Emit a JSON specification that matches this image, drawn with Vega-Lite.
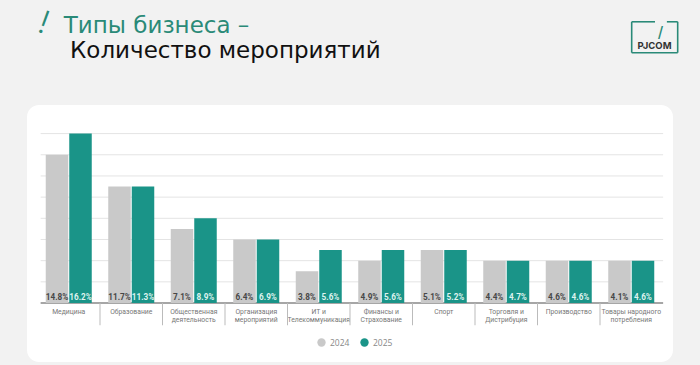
{
  "$schema": "https://vega.github.io/schema/vega-lite/v6.json",
  "width": 646,
  "height": 257,
  "autosize": "none",
  "padding": {"left": 27, "top": 105, "right": 27, "bottom": 3},
  "background": "#f2f2f2",
  "config": {
    "view": {"fill": "white", "stroke": null, "cornerRadius": 12},
    "font": "Open Sans"
  },
  "datasets": {
    "bars": [
      {"category": "Медицина", "year": "2024", "shown": 14, "label": "14.8%"},
      {"category": "Медицина", "year": "2025", "shown": 16, "label": "16.2%"},
      {"category": "Образование", "year": "2024", "shown": 11, "label": "11.7%"},
      {"category": "Образование", "year": "2025", "shown": 11, "label": "11.3%"},
      {"category": "Общественная деятельность", "year": "2024", "shown": 7, "label": "7.1%"},
      {"category": "Общественная деятельность", "year": "2025", "shown": 8, "label": "8.9%"},
      {"category": "Организация мероприятий", "year": "2024", "shown": 6, "label": "6.4%"},
      {"category": "Организация мероприятий", "year": "2025", "shown": 6, "label": "6.9%"},
      {"category": "ИТ и Телекоммуникация", "year": "2024", "shown": 3, "label": "3.8%"},
      {"category": "ИТ и Телекоммуникация", "year": "2025", "shown": 5, "label": "5.6%"},
      {"category": "Финансы и Страхование", "year": "2024", "shown": 4, "label": "4.9%"},
      {"category": "Финансы и Страхование", "year": "2025", "shown": 5, "label": "5.6%"},
      {"category": "Спорт", "year": "2024", "shown": 5, "label": "5.1%"},
      {"category": "Спорт", "year": "2025", "shown": 5, "label": "5.2%"},
      {"category": "Торговля и Дистрибуция", "year": "2024", "shown": 4, "label": "4.4%"},
      {"category": "Торговля и Дистрибуция", "year": "2025", "shown": 4, "label": "4.7%"},
      {"category": "Производство", "year": "2024", "shown": 4, "label": "4.6%"},
      {"category": "Производство", "year": "2025", "shown": 4, "label": "4.6%"},
      {"category": "Товары народного потребления", "year": "2024", "shown": 4, "label": "4.1%"},
      {"category": "Товары народного потребления", "year": "2025", "shown": 4, "label": "4.6%"}
    ],
    "cats": [
      {"category": "Медицина", "text": "Медицина"},
      {"category": "Образование", "text": "Образование"},
      {"category": "Общественная деятельность", "text": "Общественная\nдеятельность"},
      {"category": "Организация мероприятий", "text": "Организация\nмероприятий"},
      {"category": "ИТ и Телекоммуникация", "text": "ИТ и\nТелекоммуникация"},
      {"category": "Финансы и Страхование", "text": "Финансы и\nСтрахование"},
      {"category": "Спорт", "text": "Спорт"},
      {"category": "Торговля и Дистрибуция", "text": "Торговля и\nДистрибуция"},
      {"category": "Производство", "text": "Производство"},
      {"category": "Товары народного потребления", "text": "Товары народного\nпотребления"}
    ],
    "grid": [{"g": 2}, {"g": 4}, {"g": 6}, {"g": 8}, {"g": 10}, {"g": 12}, {"g": 14}, {"g": 16}],
    "logoEdges": [
      {"x": 9.507, "x2": 9.507, "y": 26.56, "y2": 23.64},
      {"x": 10.243, "x2": 10.243, "y": 26.56, "y2": 23.64},
      {"x": 9.507, "x2": 10.243, "y": 23.64, "y2": 23.64},
      {"x": 9.507, "x2": 9.88, "y": 26.56, "y2": 26.56},
      {"x": 10.07, "x2": 10.243, "y": 26.56, "y2": 26.56}
    ]
  },
  "resolve": {"scale": {"x": "independent"}},
  "layer": [
    {
      "layer": [
        {
          "data": {"name": "grid"},
          "mark": {"type": "rule", "color": "#e4e4e4", "strokeWidth": 1},
          "encoding": {
            "x": {"datum": 0.05, "type": "quantitative", "scale": {"domain": [-0.168, 10.168], "nice": false, "zero": false}, "axis": null},
            "x2": {"datum": 10.01},
            "y": {"field": "g", "type": "quantitative", "scale": {"domain": [-5.57, 18.7], "nice": false, "zero": false}, "axis": null}
          }
        },
        {
          "data": {"name": "logoEdges"},
          "mark": {"type": "rule", "color": "#2a8a78", "strokeWidth": 1.6},
          "encoding": {
            "x": {"field": "x", "type": "quantitative"},
            "x2": {"field": "x2"},
            "y": {"field": "y", "type": "quantitative"},
            "y2": {"field": "y2"}
          }
        },
        {
          "data": {"values": [{"t": "fixed"}]},
          "layer": [
            {
              "mark": {"type": "rule", "color": "#888888", "strokeWidth": 1.5},
              "encoding": {
                "x": {"datum": 0.05, "type": "quantitative"},
                "x2": {"datum": 10.01},
                "y": {"datum": 0, "type": "quantitative"}
              }
            },
            {
              "mark": {"type": "text", "text": "PJCOM", "font": "Inter", "fontSize": 9.5, "fontWeight": 700, "color": "#333333", "baseline": "middle", "align": "center"},
              "encoding": {
                "x": {"datum": 9.872, "type": "quantitative"},
                "y": {"datum": 24.3, "type": "quantitative"}
              }
            },
            {
              "mark": {"type": "text", "text": "/", "font": "Inter", "fontSize": 15, "fontWeight": 500, "color": "#2a8a78", "baseline": "middle", "align": "center"},
              "encoding": {
                "x": {"datum": 9.97, "type": "quantitative"},
                "y": {"datum": 25.6, "type": "quantitative"}
              }
            },
            {
              "mark": {"type": "text", "text": "!", "font": "Inter", "fontSize": 32, "fontWeight": 300, "color": "#2a8a78", "baseline": "middle", "align": "center", "angle": 20},
              "encoding": {
                "x": {"datum": 0.1, "type": "quantitative"},
                "y": {"datum": 26.4, "type": "quantitative"}
              }
            },
            {
              "mark": {"type": "text", "text": "Типы бизнеса –", "font": "DejaVu Sans", "fontSize": 23, "fontWeight": 400, "color": "#2a8a78", "baseline": "alphabetic", "align": "left"},
              "encoding": {
                "x": {"datum": 0.42, "type": "quantitative"},
                "y": {"datum": 25.5, "type": "quantitative"}
              }
            },
            {
              "mark": {"type": "text", "text": "Количество мероприятий", "font": "DejaVu Sans", "fontSize": 23, "fontWeight": 400, "color": "#111111", "baseline": "alphabetic", "align": "left"},
              "encoding": {
                "x": {"datum": 0.52, "type": "quantitative"},
                "y": {"datum": 23.15, "type": "quantitative"}
              }
            }
          ]
        }
      ]
    },
    {
      "layer": [
        {
          "data": {"name": "bars"},
          "layer": [
            {
              "mark": {"type": "bar"},
              "encoding": {
                "x": {"field": "category", "type": "nominal", "sort": null, "axis": null,
                  "scale": {"domain": ["Медицина", "Образование", "Общественная деятельность", "Организация мероприятий", "ИТ и Телекоммуникация", "Финансы и Страхование", "Спорт", "Торговля и Дистрибуция", "Производство", "Товары народного потребления"], "paddingInner": 0, "paddingOuter": 0.168}},
                "xOffset": {"field": "year", "type": "nominal", "scale": {"paddingInner": 0.0426, "paddingOuter": 0.351}},
                "y": {"field": "shown", "type": "quantitative", "scale": {"domain": [-5.57, 18.7], "nice": false, "zero": false}, "axis": null},
                "y2": {"datum": 0},
                "color": {"field": "year", "type": "nominal",
                  "scale": {"domain": ["2024", "2025"], "range": ["#c9c9c9", "#1a9488"]},
                  "legend": {"orient": "none", "legendX": 290, "legendY": 233, "direction": "horizontal", "title": null,
                    "symbolType": "circle", "symbolSize": 70, "symbolStrokeWidth": 0, "labelFontSize": 8.5, "labelColor": "#888888",
                    "labelFont": "Open Sans", "columnPadding": 10, "labelOffset": 4}}
              }
            },
            {
              "mark": {"type": "text", "font": "Roboto", "fontSize": 8.2, "fontWeight": 700, "baseline": "alphabetic", "align": "center", "dy": -3},
              "encoding": {
                "x": {"field": "category", "type": "nominal", "sort": null},
                "xOffset": {"field": "year", "type": "nominal"},
                "y": {"datum": 0, "type": "quantitative"},
                "text": {"field": "label"},
                "color": {"condition": {"test": "datum.year == '2024'", "value": "#474747"}, "value": "#dff3ef"}
              }
            }
          ]
        },
        {
          "data": {"name": "cats"},
          "layer": [
            {
              "mark": {"type": "text", "font": "Roboto", "fontSize": 6.8, "color": "#777777", "baseline": "top", "align": "center", "lineBreak": "\n", "lineHeight": 8},
              "encoding": {
                "x": {"field": "category", "type": "nominal", "sort": null},
                "y": {"datum": -0.55, "type": "quantitative"},
                "text": {"field": "text"}
              }
            },
            {
              "transform": [{"filter": "datum.category != 'Медицина'"}],
              "mark": {"type": "rule", "color": "#bbbbbb", "strokeWidth": 1},
              "encoding": {
                "x": {"field": "category", "type": "nominal", "sort": null, "bandPosition": 0},
                "y": {"datum": 0, "type": "quantitative"},
                "y2": {"datum": -2.1}
              }
            }
          ]
        }
      ]
    }
  ]
}
